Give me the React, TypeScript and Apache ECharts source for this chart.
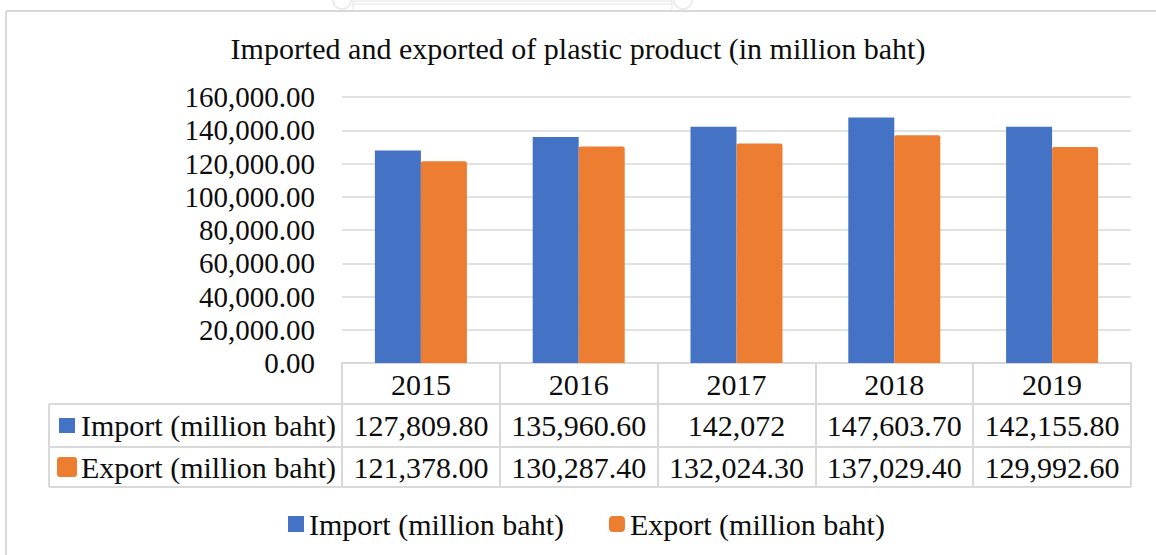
import React, { useEffect, useRef } from "react";
import * as echarts from "echarts";

const years = ["2015", "2016", "2017", "2018", "2019"];
const importValues = [127809.8, 135960.6, 142072, 147603.7, 142155.8];
const exportValues = [121378.0, 130287.4, 132024.3, 137029.4, 129992.6];
const importTableText = ["127,809.80", "135,960.60", "142,072", "147,603.70", "142,155.80"];
const exportTableText = ["121,378.00", "130,287.40", "132,024.30", "137,029.40", "129,992.60"];
const importName = "Import (million baht)";
const exportName = "Export (million baht)";
const titleText = "Imported and exported of plastic product (in million baht)";

const FONT = "'Liberation Serif', 'Times New Roman', serif";
const BLUE = "#4472C4";
const ORANGE = "#ED7D31";
const GRID = "#d9d9d9";
const TEXT = "#0d0d0d";

export default function App() {
  const ref = useRef<HTMLDivElement>(null);
  useEffect(() => {
    if (!ref.current) return;
    const chart = echarts.init(ref.current, null, { renderer: "svg" });
    const fmt = (v: number) =>
      v.toLocaleString("en-US", { minimumFractionDigits: 2, maximumFractionDigits: 2 });
    const tableLine = (x1: number, y1: number, x2: number, y2: number) => ({
      type: "line",
      shape: { x1, y1, x2, y2 },
      style: { stroke: GRID, lineWidth: 2 },
      silent: true,
    });
    const faint = "#ececec";
    chart.setOption({
      animation: false,
      backgroundColor: "#fff",
      title: {
        text: titleText,
        left: "center",
        top: 33,
        padding: [0, 0, 0, 10],
        textStyle: { fontFamily: FONT, fontSize: 30, fontWeight: "normal", color: TEXT },
      },
      legend: {
        left: 288,
        top: 509,
        padding: 0,
        itemWidth: 16,
        itemHeight: 16,
        itemGap: 45,
        textStyle: { fontFamily: FONT, fontSize: 30, color: TEXT },
        data: [
          { name: importName, icon: "rect" },
          { name: exportName, icon: "roundRect" },
        ],
      },
      grid: { left: 342, right: 25, top: 97, bottom: 192, containLabel: false },
      xAxis: [
        {
          type: "category",
          data: years,
          position: "bottom",
          boundaryGap: true,
          axisLine: { show: true, lineStyle: { color: GRID, width: 2 } },
          axisTick: {
            show: true,
            length: 124,
            interval: 0,
            alignWithLabel: false,
            lineStyle: { color: GRID, width: 2 },
          },
          axisLabel: {
            fontFamily: FONT,
            fontSize: 30,
            color: TEXT,
            verticalAlign: "middle",
            margin: 21,
            interval: 0,
          },
        },
        {
          type: "category",
          data: importTableText,
          position: "bottom",
          offset: 41,
          axisLine: { show: false },
          axisTick: { show: false },
          axisLabel: {
            fontFamily: FONT,
            fontSize: 30,
            color: TEXT,
            verticalAlign: "middle",
            margin: 21.5,
            interval: 0,
          },
        },
        {
          type: "category",
          data: exportTableText,
          position: "bottom",
          offset: 84,
          axisLine: { show: false },
          axisTick: { show: false },
          axisLabel: {
            fontFamily: FONT,
            fontSize: 30,
            color: TEXT,
            verticalAlign: "middle",
            margin: 20,
            interval: 0,
          },
        },
      ],
      yAxis: {
        type: "value",
        min: 0,
        max: 160000,
        interval: 20000,
        axisLine: { show: false },
        axisTick: { show: false },
        splitLine: { lineStyle: { color: GRID, width: 1.5 } },
        axisLabel: {
          fontFamily: FONT,
          fontSize: 29,
          color: TEXT,
          margin: 27,
          formatter: (v: number) => fmt(v),
        },
      },
      series: [
        {
          name: importName,
          type: "bar",
          xAxisIndex: 0,
          data: importValues,
          barWidth: 46,
          barGap: "0%",
          itemStyle: { color: BLUE },
        },
        {
          name: exportName,
          type: "bar",
          xAxisIndex: 0,
          data: exportValues,
          barWidth: 46,
          barGap: "0%",
          itemStyle: { color: ORANGE, borderRadius: [2, 2, 0, 0] },
        },
      ],
      graphic: [
        // outer chart border
        tableLine(6, 11, 1160, 11),
        tableLine(6, 11, 6, 560),
        // faint decoration at the top
        {
          type: "line",
          shape: { x1: 353, y1: 1, x2: 672, y2: 1 },
          style: { stroke: faint, lineWidth: 1.5 },
          silent: true,
        },
        {
          type: "line",
          shape: { x1: 353, y1: 4, x2: 672, y2: 4 },
          style: { stroke: faint, lineWidth: 1.5 },
          silent: true,
        },
        {
          type: "line",
          shape: { x1: 353, y1: 0, x2: 353, y2: 10 },
          style: { stroke: faint, lineWidth: 1.5 },
          silent: true,
        },
        {
          type: "line",
          shape: { x1: 672, y1: 0, x2: 672, y2: 10 },
          style: { stroke: faint, lineWidth: 1.5 },
          silent: true,
        },
        {
          type: "circle",
          shape: { cx: 342, cy: 0, r: 9 },
          style: { fill: "none", stroke: faint, lineWidth: 2 },
          silent: true,
        },
        {
          type: "circle",
          shape: { cx: 683, cy: 0, r: 9 },
          style: { fill: "none", stroke: faint, lineWidth: 2 },
          silent: true,
        },
        // data table borders
        tableLine(49, 404, 1131, 404),
        tableLine(49, 447, 1131, 447),
        tableLine(49, 487, 1131, 487),
        tableLine(49, 404, 49, 487),
        // row labels
        {
          type: "rect",
          shape: { x: 59, y: 418, width: 16, height: 15 },
          style: { fill: BLUE },
          silent: true,
        },
        {
          type: "text",
          style: {
            text: importName,
            x: 81,
            y: 425.5,
            font: `30px ${FONT}`,
            fill: TEXT,
            textAlign: "left",
            verticalAlign: "middle",
            textVerticalAlign: "middle",
          },
          silent: true,
        },
        {
          type: "rect",
          shape: { x: 57, y: 457, width: 20, height: 20, r: 3 },
          style: { fill: ORANGE },
          silent: true,
        },
        {
          type: "text",
          style: {
            text: exportName,
            x: 81,
            y: 467,
            font: `30px ${FONT}`,
            fill: TEXT,
            textAlign: "left",
            verticalAlign: "middle",
            textVerticalAlign: "middle",
          },
          silent: true,
        },
      ],
    });
    return () => chart.dispose();
  }, []);
  return (
    <div
      ref={ref}
      style={{ position: "fixed", left: 0, top: 0, width: 1156, height: 555, background: "#fff" }}
    />
  );
}
